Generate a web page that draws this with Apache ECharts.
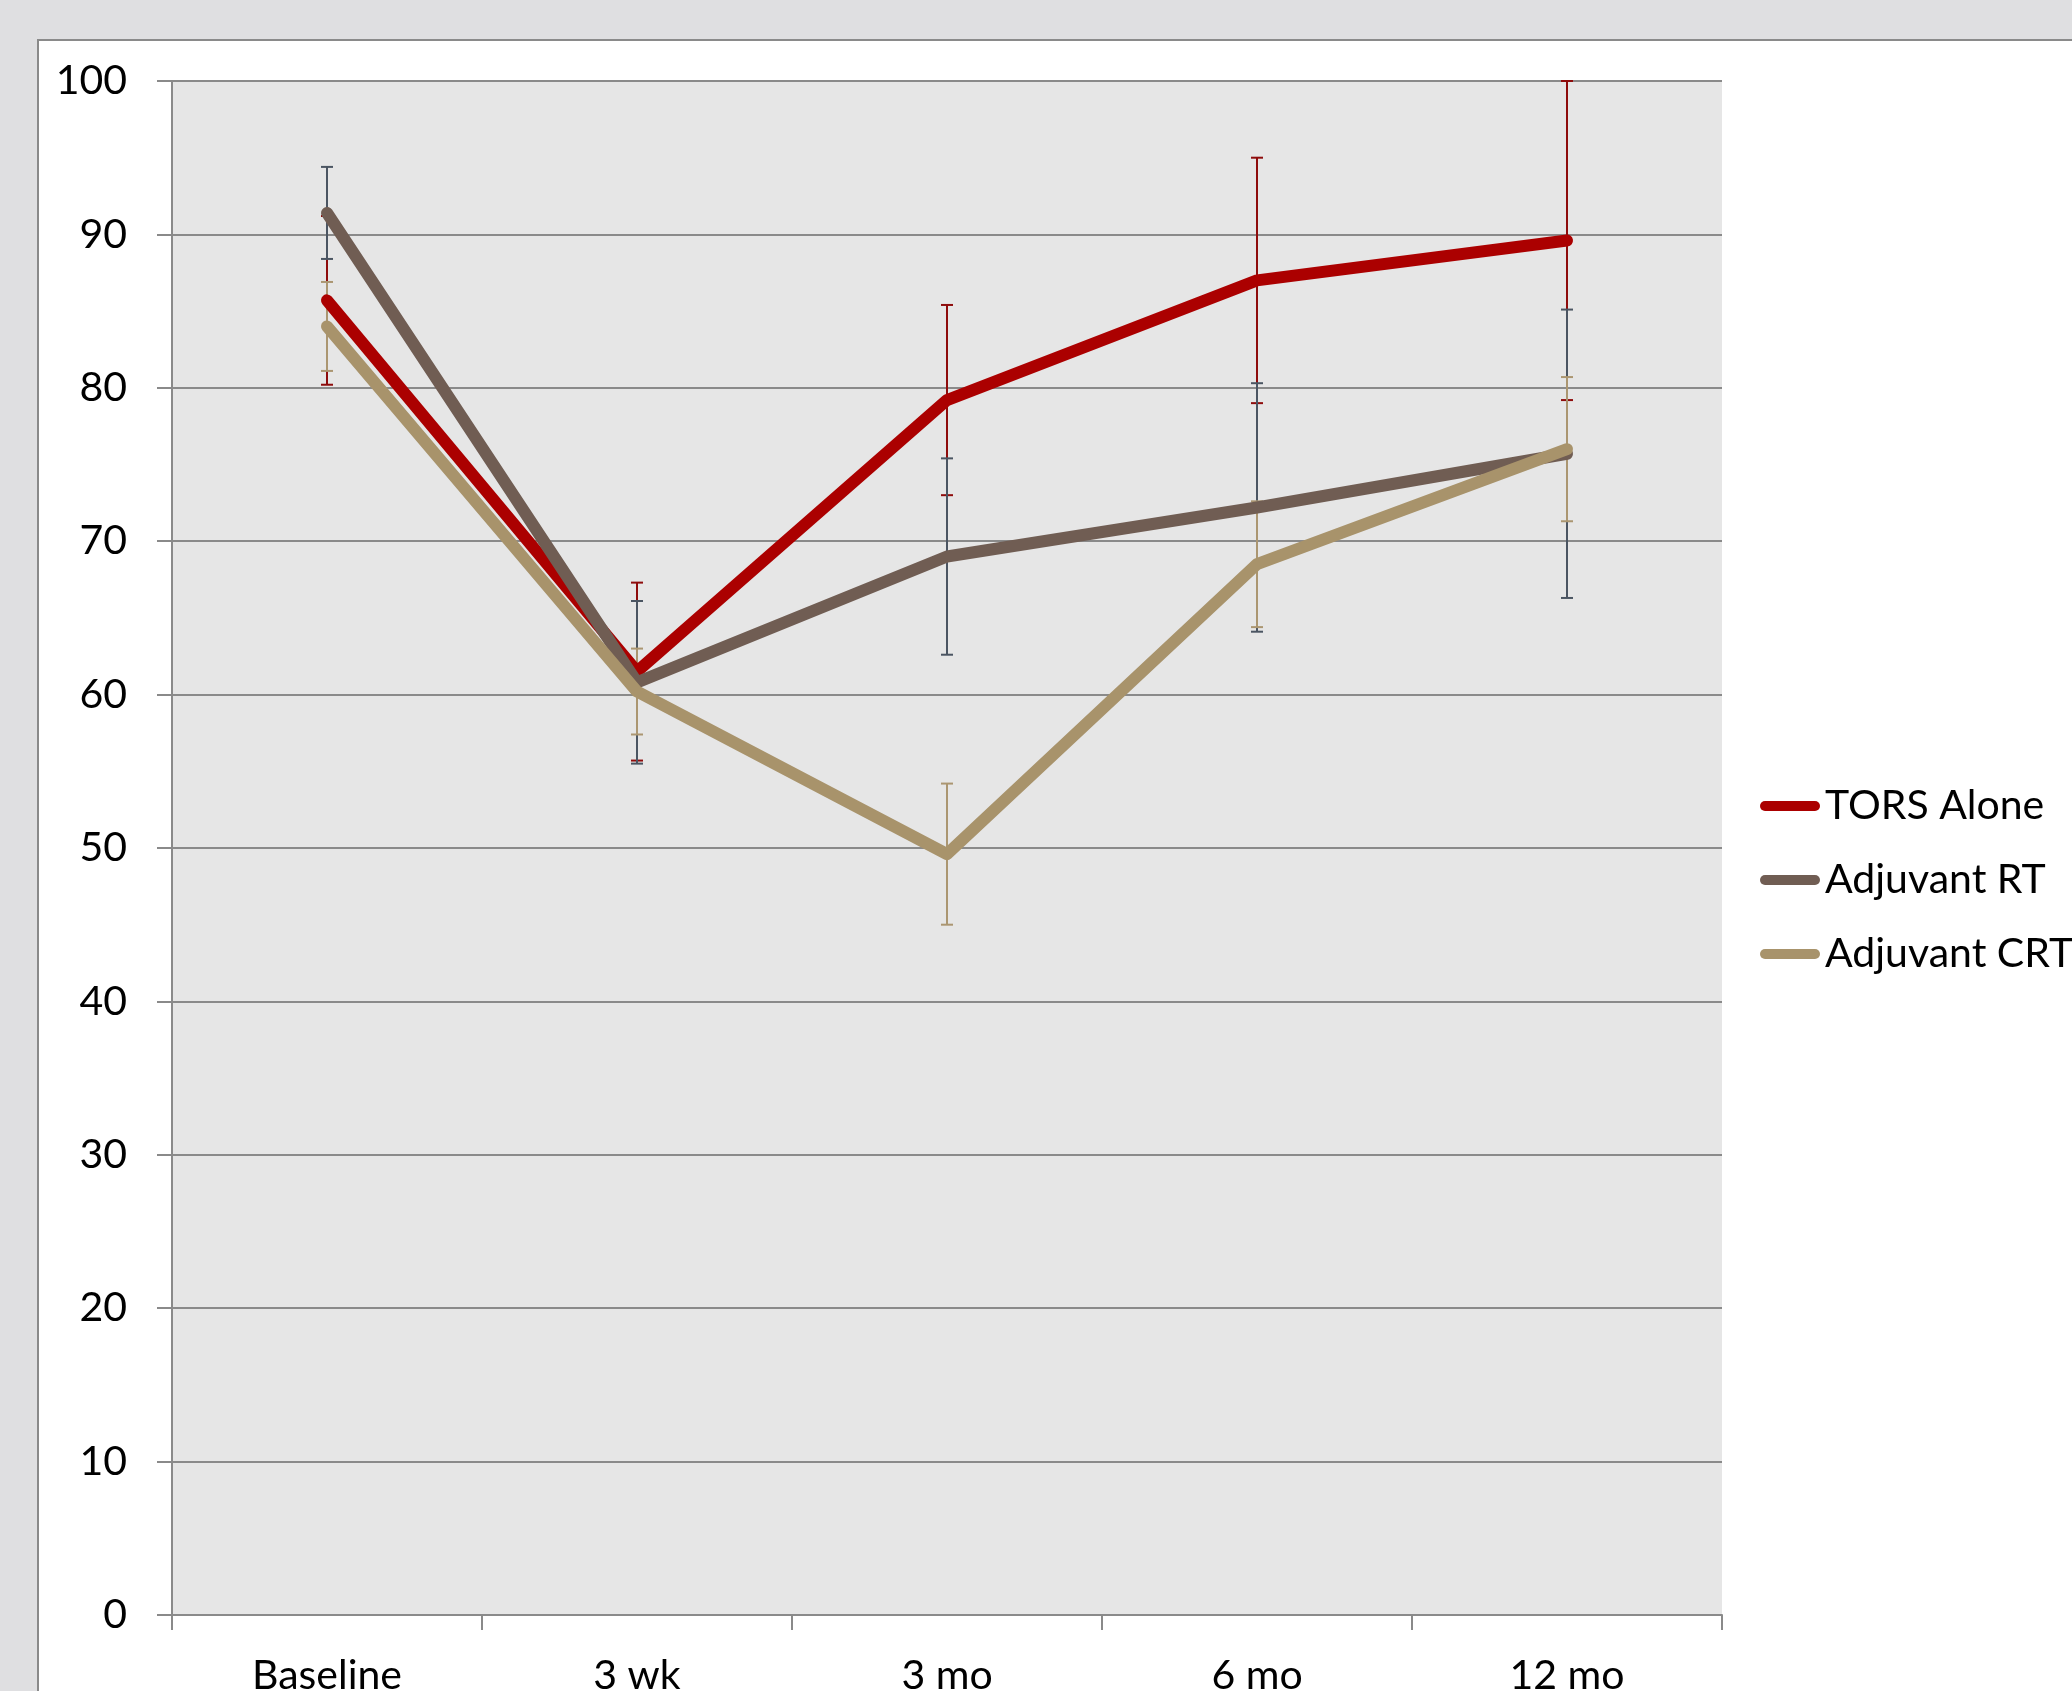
<!DOCTYPE html>
<html>
<head>
<meta charset="utf-8">
<script src="https://cdn.jsdelivr.net/npm/echarts@6/dist/echarts.min.js"></script>
<style>
  html, body { margin: 0; padding: 0; width: 2072px; height: 1691px; overflow: hidden; background: #dfdfe1; }
  #frame { position: absolute; left: 37px; top: 39px; width: 2200px; height: 1800px; background: #ffffff; border: 2px solid #8a8a8a; box-sizing: border-box; }
  #chart { position: absolute; left: 0; top: 0; width: 2072px; height: 1691px; }
</style>
</head>
<body>
<div id="frame"></div>
<div id="chart"></div>
<script>
// Time points of the follow-up
const categories = ['Baseline', '3 wk', '3 mo', '6 mo', '12 mo'];

// Mean scores and error bar half-widths per group
const torsMean = [85.7, 61.5, 79.2, 87.0, 89.6];
const torsErr  = [5.5, 5.8, 6.2, 8.0, 10.4];
const rtMean   = [91.4, 60.8, 69.0, 72.2, 75.7];
const rtErr    = [3.0, 5.3, 6.4, 8.1, 9.4];
const crtMean  = [84.0, 60.2, 49.6, 68.5, 76.0];
const crtErr   = [2.9, 2.8, 4.6, 4.1, 4.7];

const seriesNames = ['TORS Alone', 'Adjuvant RT', 'Adjuvant CRT'];
const lineColors = ['#ab0000', '#705d53', '#a8936b'];
const barColors  = ['#8e0c0c', '#4b5562', '#ab9671'];

const FONT = 'Lato, "Liberation Sans", sans-serif';
const LINE_W = 12;

function errorData(mean, err) {
  return mean.map((m, i) => [i, m - err[i], m + err[i]]);
}

function errorSeries(name, mean, err, color) {
  return {
    type: 'custom',
    name: name + ' error',
    z: 1,
    silent: true,
    data: errorData(mean, err),
    encode: { x: 0, y: [1, 2] },
    renderItem: function (params, api) {
      const x = api.value(0);
      const lo = api.coord([x, api.value(1)]);
      const hi = api.coord([x, api.value(2)]);
      const half = 6;
      const style = { stroke: color, lineWidth: 2 };
      return {
        type: 'group',
        children: [
          { type: 'line', shape: { x1: lo[0], y1: lo[1], x2: hi[0], y2: hi[1] }, style: style },
          { type: 'line', shape: { x1: lo[0] - half, y1: lo[1], x2: lo[0] + half, y2: lo[1] }, style: style },
          { type: 'line', shape: { x1: hi[0] - half, y1: hi[1], x2: hi[0] + half, y2: hi[1] }, style: style }
        ]
      };
    }
  };
}

function lineSeries(name, mean, color) {
  return {
    type: 'line',
    name: name,
    z: 3,
    data: mean,
    showSymbol: false,
    symbol: 'none',
    lineStyle: { color: color, width: LINE_W, cap: 'round', join: 'round' },
    itemStyle: { color: color },
    emphasis: { disabled: true }
  };
}

const pill = 'path://M5,0 L55,0 A5,5 0 0 1 55,10 L5,10 A5,5 0 0 1 5,0 Z';

const chart = echarts.init(document.getElementById('chart'), null, { renderer: 'canvas' });
chart.setOption({
  backgroundColor: 'transparent',
  animation: false,
  grid: {
    left: 172, top: 81, right: 350, bottom: 76,
    outerBoundsMode: 'none',
    containLabel: false,
    show: true, backgroundColor: '#e6e6e6', borderWidth: 0
  },
  legend: {
    orient: 'vertical',
    left: 1760,
    top: 784,
    padding: 0,
    itemWidth: 60,
    itemHeight: 11,
    itemGap: 30,
    itemTextGap: 1,
    data: seriesNames.map((n, i) => ({ name: n, icon: pill, itemStyle: { color: lineColors[i] } })),
    textStyle: { fontFamily: FONT, fontSize: 41, color: '#000000', lineHeight: 44 }
  },
  xAxis: {
    type: 'category',
    data: categories,
    boundaryGap: true,
    axisLine: { show: true, lineStyle: { color: '#8a8a8a', width: 2 } },
    axisTick: { show: true, length: 15, lineStyle: { color: '#8a8a8a', width: 2 } },
    axisLabel: { fontFamily: FONT, fontSize: 41, color: '#000000', margin: 40 },
    splitLine: { show: false }
  },
  yAxis: {
    type: 'value',
    min: 0,
    max: 100,
    interval: 10,
    axisLine: { show: true, lineStyle: { color: '#8a8a8a', width: 2 } },
    axisTick: { show: true, length: 15, lineStyle: { color: '#8a8a8a', width: 2 } },
    axisLabel: { fontFamily: FONT, fontSize: 41, color: '#000000', margin: 45 },
    splitLine: { show: true, lineStyle: { color: '#8a8a8a', width: 2 } }
  },
  series: [
    errorSeries(seriesNames[0], torsMean, torsErr, barColors[0]),
    errorSeries(seriesNames[1], rtMean, rtErr, barColors[1]),
    errorSeries(seriesNames[2], crtMean, crtErr, barColors[2]),
    lineSeries(seriesNames[0], torsMean, lineColors[0]),
    lineSeries(seriesNames[1], rtMean, lineColors[1]),
    lineSeries(seriesNames[2], crtMean, lineColors[2])
  ]
});
</script>
</body>
</html>
